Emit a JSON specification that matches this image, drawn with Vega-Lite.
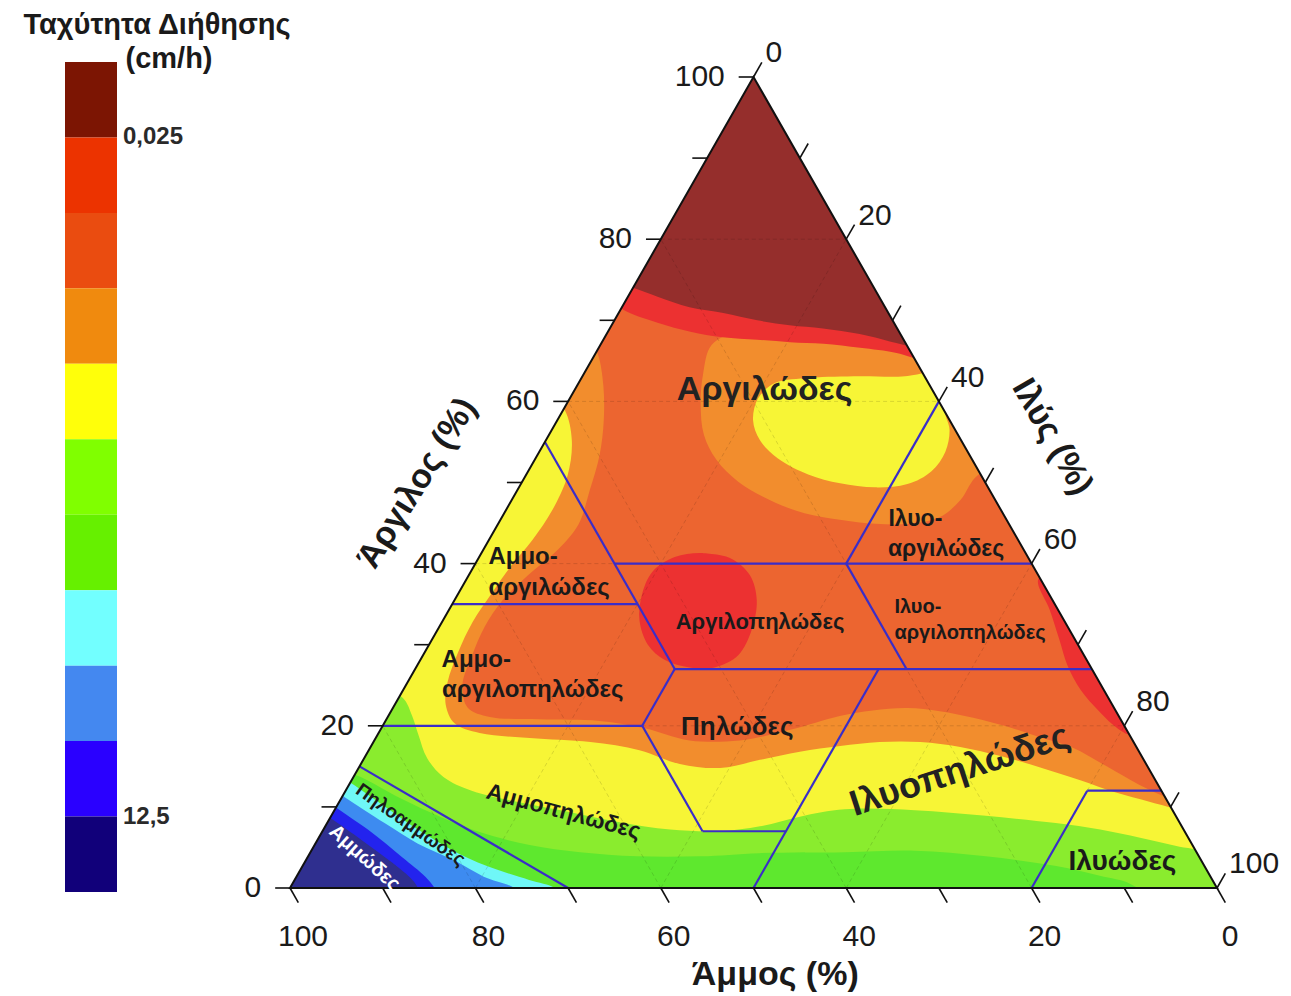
{
"$schema":"https://vega.github.io/schema/vega-lite/v6.json",
"width":1291,"height":996,"padding":0,"autosize":{"type":"none"},
"background":"#ffffff",
"config":{"view":{"stroke":null},"font":"Liberation Sans"},
"datasets":{
"base":[{"poly":1,"silt":0,"clay":0},{"poly":1,"silt":100,"clay":0},{"poly":1,"silt":0,"clay":100}],
"masks":[
{"poly":1,"silt":0,"clay":-14},{"poly":1,"silt":0,"clay":115},{"poly":1,"silt":-97.5,"clay":115},{"poly":1,"silt":-33,"clay":-14},
{"poly":2,"silt":114,"clay":-14},{"poly":2,"silt":-15,"clay":115},{"poly":2,"silt":62.5,"clay":115},{"poly":2,"silt":127,"clay":-14},
{"poly":3,"silt":-40,"clay":0},{"poly":3,"silt":120,"clay":0},{"poly":3,"silt":127,"clay":-14},{"poly":3,"silt":-33,"clay":-14}
],
"bands":[
{"poly":1,"band":"orange","silt":-1.4,"clay":67.6},{"poly":1,"band":"orange","silt":0.4,"clay":65.7},{"poly":1,"band":"orange","silt":2.8,"clay":62.0},{"poly":1,"band":"orange","silt":5.0,"clay":57.7},{"poly":1,"band":"orange","silt":6.7,"clay":53.4},{"poly":1,"band":"orange","silt":7.8,"clay":49.1},{"poly":1,"band":"orange","silt":8.7,"clay":44.8},{"poly":1,"band":"orange","silt":7.9,"clay":41.4},{"poly":1,"band":"orange","silt":6.4,"clay":38.6},{"poly":1,"band":"orange","silt":5.2,"clay":35.5},{"poly":1,"band":"orange","silt":4.9,"clay":32.2},{"poly":1,"band":"orange","silt":5.3,"clay":28.7},{"poly":1,"band":"orange","silt":6.1,"clay":25.0},{"poly":1,"band":"orange","silt":8.1,"clay":22.2},{"poly":1,"band":"orange","silt":11.0,"clay":21.1},{"poly":1,"band":"orange","silt":16.5,"clay":20.8},{"poly":1,"band":"orange","silt":23.1,"clay":20.6},{"poly":1,"band":"orange","silt":28.4,"clay":19.7},{"poly":1,"band":"orange","silt":34.0,"clay":18.2},{"poly":1,"band":"orange","silt":39.4,"clay":18.2},{"poly":1,"band":"orange","silt":44.2,"clay":19.5},{"poly":1,"band":"orange","silt":48.7,"clay":21.2},{"poly":1,"band":"orange","silt":51.9,"clay":21.9},{"poly":1,"band":"orange","silt":55.5,"clay":22.2},{"poly":1,"band":"orange","silt":59.2,"clay":21.8},{"poly":1,"band":"orange","silt":63.2,"clay":21.0},{"poly":1,"band":"orange","silt":67.4,"clay":19.9},{"poly":1,"band":"orange","silt":71.6,"clay":18.6},{"poly":1,"band":"orange","silt":75.8,"clay":17.3},{"poly":1,"band":"orange","silt":80.6,"clay":15.0},{"poly":1,"band":"orange","silt":85.3,"clay":12.7},{"poly":1,"band":"orange","silt":91.4,"clay":10.2},{"poly":1,"band":"orange","silt":105.5,"clay":5},{"poly":1,"band":"orange","silt":116.5,"clay":-13},{"poly":1,"band":"orange","silt":-18.5,"clay":-13},{"poly":1,"band":"orange","silt":-30,"clay":40},{"poly":1,"band":"orange","silt":-16,"clay":72},
{"poly":2,"band":"yellow","silt":-2.3,"clay":60.8},{"poly":2,"band":"yellow","silt":0.2,"clay":58.9},{"poly":2,"band":"yellow","silt":2.8,"clay":55.2},{"poly":2,"band":"yellow","silt":4.5,"clay":50.9},{"poly":2,"band":"yellow","silt":5.0,"clay":46.6},{"poly":2,"band":"yellow","silt":4.7,"clay":42.9},{"poly":2,"band":"yellow","silt":4.0,"clay":39.8},{"poly":2,"band":"yellow","silt":3.6,"clay":36.4},{"poly":2,"band":"yellow","silt":3.3,"clay":32.8},{"poly":2,"band":"yellow","silt":3.6,"clay":29.1},{"poly":2,"band":"yellow","silt":4.3,"clay":25.4},{"poly":2,"band":"yellow","silt":5.5,"clay":22.6},{"poly":2,"band":"yellow","silt":7.6,"clay":20.3},{"poly":2,"band":"yellow","silt":10.9,"clay":19.1},{"poly":2,"band":"yellow","silt":16.6,"clay":18.5},{"poly":2,"band":"yellow","silt":23.4,"clay":18.0},{"poly":2,"band":"yellow","silt":29.2,"clay":17.0},{"poly":2,"band":"yellow","silt":34.4,"clay":15.3},{"poly":2,"band":"yellow","silt":39.0,"clay":14.8},{"poly":2,"band":"yellow","silt":42.8,"clay":15.8},{"poly":2,"band":"yellow","silt":46.6,"clay":16.8},{"poly":2,"band":"yellow","silt":50.6,"clay":17.5},{"poly":2,"band":"yellow","silt":54.6,"clay":18.0},{"poly":2,"band":"yellow","silt":59.0,"clay":18.0},{"poly":2,"band":"yellow","silt":63.6,"clay":17.4},{"poly":2,"band":"yellow","silt":68.4,"clay":16.3},{"poly":2,"band":"yellow","silt":73.4,"clay":14.9},{"poly":2,"band":"yellow","silt":78.6,"clay":13.3},{"poly":2,"band":"yellow","silt":83.1,"clay":11.8},{"poly":2,"band":"yellow","silt":87.5,"clay":10.6},{"poly":2,"band":"yellow","silt":91.9,"clay":9.4},{"poly":2,"band":"yellow","silt":105.5,"clay":5},{"poly":2,"band":"yellow","silt":116.5,"clay":-13},{"poly":2,"band":"yellow","silt":-18.5,"clay":-13},{"poly":2,"band":"yellow","silt":-30,"clay":40},{"poly":2,"band":"yellow","silt":-16.5,"clay":63},
{"poly":3,"band":"lgreen","silt":-2.0,"clay":24.4},{"poly":3,"band":"lgreen","silt":0.5,"clay":23.4},{"poly":3,"band":"lgreen","silt":2.5,"clay":21.3},{"poly":3,"band":"lgreen","silt":4.4,"clay":18.9},{"poly":3,"band":"lgreen","silt":6.8,"clay":16.0},{"poly":3,"band":"lgreen","silt":9.7,"clay":13.7},{"poly":3,"band":"lgreen","silt":13.6,"clay":12.0},{"poly":3,"band":"lgreen","silt":19.3,"clay":10.6},{"poly":3,"band":"lgreen","silt":25.3,"clay":9.4},{"poly":3,"band":"lgreen","silt":31.5,"clay":8.1},{"poly":3,"band":"lgreen","silt":37.4,"clay":7.2},{"poly":3,"band":"lgreen","silt":42.9,"clay":7.0},{"poly":3,"band":"lgreen","silt":46.9,"clay":7.6},{"poly":3,"band":"lgreen","silt":50.6,"clay":8.8},{"poly":3,"band":"lgreen","silt":55.0,"clay":9.7},{"poly":3,"band":"lgreen","silt":62.6,"clay":9.6},{"poly":3,"band":"lgreen","silt":70.6,"clay":8.9},{"poly":3,"band":"lgreen","silt":78.6,"clay":8.0},{"poly":3,"band":"lgreen","silt":83.8,"clay":7.2},{"poly":3,"band":"lgreen","silt":88.6,"clay":6.2},{"poly":3,"band":"lgreen","silt":92.9,"clay":5.2},{"poly":3,"band":"lgreen","silt":97.3,"clay":3.9},{"poly":3,"band":"lgreen","silt":116.5,"clay":-13},{"poly":3,"band":"lgreen","silt":-18.5,"clay":-13},{"poly":3,"band":"lgreen","silt":-22.5,"clay":25},{"poly":3,"band":"lgreen","silt":-12,"clay":30},
{"poly":4,"band":"dgreen","silt":-1.2,"clay":14.3},{"poly":4,"band":"dgreen","silt":1.0,"clay":13.6},{"poly":4,"band":"dgreen","silt":6.3,"clay":11.1},{"poly":4,"band":"dgreen","silt":11.8,"clay":8.8},{"poly":4,"band":"dgreen","silt":17.0,"clay":6.9},{"poly":4,"band":"dgreen","silt":23.2,"clay":5.3},{"poly":4,"band":"dgreen","silt":29.1,"clay":4.4},{"poly":4,"band":"dgreen","silt":35.5,"clay":3.9},{"poly":4,"band":"dgreen","silt":42.3,"clay":3.9},{"poly":4,"band":"dgreen","silt":48.5,"clay":4.3},{"poly":4,"band":"dgreen","silt":57.7,"clay":4.4},{"poly":4,"band":"dgreen","silt":65.1,"clay":4.6},{"poly":4,"band":"dgreen","silt":73.1,"clay":3.9},{"poly":4,"band":"dgreen","silt":81.3,"clay":2.7},{"poly":4,"band":"dgreen","silt":86.6,"clay":1.5},{"poly":4,"band":"dgreen","silt":90.4,"clay":0.5},{"poly":4,"band":"dgreen","silt":93.5,"clay":-1.5},{"poly":4,"band":"dgreen","silt":98.5,"clay":-13},{"poly":4,"band":"dgreen","silt":-18.5,"clay":-13},{"poly":4,"band":"dgreen","silt":-17,"clay":14},
{"poly":5,"band":"cyan","silt":-1.8,"clay":13.9},{"poly":5,"band":"cyan","silt":0.2,"clay":12.9},{"poly":5,"band":"cyan","silt":5.3,"clay":10.0},{"poly":5,"band":"cyan","silt":10.2,"clay":7.2},{"poly":5,"band":"cyan","silt":15.1,"clay":4.7},{"poly":5,"band":"cyan","silt":19.9,"clay":2.7},{"poly":5,"band":"cyan","silt":25.3,"clay":1.0},{"poly":5,"band":"cyan","silt":28.6,"clay":0},{"poly":5,"band":"cyan","silt":30.6,"clay":-1.5},{"poly":5,"band":"cyan","silt":35.5,"clay":-13},{"poly":5,"band":"cyan","silt":-18.5,"clay":-13},{"poly":5,"band":"cyan","silt":-17,"clay":14},
{"poly":6,"band":"lblue","silt":-1.4,"clay":12.1},{"poly":6,"band":"lblue","silt":0.3,"clay":11.2},{"poly":6,"band":"lblue","silt":6.2,"clay":8.0},{"poly":6,"band":"lblue","silt":11.0,"clay":5.5},{"poly":6,"band":"lblue","silt":15.8,"clay":3.5},{"poly":6,"band":"lblue","silt":20.2,"clay":1.4},{"poly":6,"band":"lblue","silt":24.2,"clay":0},{"poly":6,"band":"lblue","silt":26.2,"clay":-1.5},{"poly":6,"band":"lblue","silt":32.5,"clay":-13},{"poly":6,"band":"lblue","silt":-18.5,"clay":-13},{"poly":6,"band":"lblue","silt":-16,"clay":12},
{"poly":7,"band":"blue","silt":-1.6,"clay":10.9},{"poly":7,"band":"blue","silt":-0.1,"clay":10.0},{"poly":7,"band":"blue","silt":4.8,"clay":7.2},{"poly":7,"band":"blue","silt":10.2,"clay":3.8},{"poly":7,"band":"blue","silt":13.9,"clay":1.4},{"poly":7,"band":"blue","silt":15.6,"clay":0},{"poly":7,"band":"blue","silt":16.9,"clay":-1.5},{"poly":7,"band":"blue","silt":22.5,"clay":-13},{"poly":7,"band":"blue","silt":-18.5,"clay":-13},{"poly":7,"band":"blue","silt":-15,"clay":10},
{"poly":8,"band":"navy","silt":-1.8,"clay":9.6},{"poly":8,"band":"navy","silt":0.1,"clay":8.6},{"poly":8,"band":"navy","silt":4.8,"clay":5.9},{"poly":8,"band":"navy","silt":9.5,"clay":3.1},{"poly":8,"band":"navy","silt":12.7,"clay":1.0},{"poly":8,"band":"navy","silt":13.8,"clay":0},{"poly":8,"band":"navy","silt":14.9,"clay":-1.5},{"poly":8,"band":"navy","silt":20.5,"clay":-13},{"poly":8,"band":"navy","silt":-18.5,"clay":-13},{"poly":8,"band":"navy","silt":-14.5,"clay":9},
{"poly":9,"band":"orange","silt":38.5,"clay":67.6},{"poly":9,"band":"orange","silt":30.0,"clay":67.2},{"poly":9,"band":"orange","silt":21.0,"clay":67.9},{"poly":9,"band":"orange","silt":14.3,"clay":68.6},{"poly":9,"band":"orange","silt":12.0,"clay":67.0},{"poly":9,"band":"orange","silt":12.9,"clay":63.3},{"poly":9,"band":"orange","silt":14.5,"clay":59.6},{"poly":9,"band":"orange","silt":16.7,"clay":55.9},{"poly":9,"band":"orange","silt":19.6,"clay":52.8},{"poly":9,"band":"orange","silt":23.3,"clay":50.1},{"poly":9,"band":"orange","silt":27.9,"clay":47.8},{"poly":9,"band":"orange","silt":32.4,"clay":46.2},{"poly":9,"band":"orange","silt":36.6,"clay":45.4},{"poly":9,"band":"orange","silt":40.7,"clay":44.9},{"poly":9,"band":"orange","silt":44.4,"clay":44.9},{"poly":9,"band":"orange","silt":47.2,"clay":45.7},{"poly":9,"band":"orange","silt":48.4,"clay":47.8},{"poly":9,"band":"orange","silt":48.6,"clay":50.6},{"poly":9,"band":"orange","silt":50.2,"clay":52.8},{"poly":9,"band":"orange","silt":47.6,"clay":60.2},
{"poly":10,"band":"yellow","silt":38.6,"clay":64.1},{"poly":10,"band":"yellow","silt":34.8,"clay":63.1},{"poly":10,"band":"yellow","silt":29.9,"clay":63.1},{"poly":10,"band":"yellow","silt":24.7,"clay":62.9},{"poly":10,"band":"yellow","silt":21.2,"clay":62.3},{"poly":10,"band":"yellow","silt":20.3,"clay":60.4},{"poly":10,"band":"yellow","silt":21.1,"clay":57.7},{"poly":10,"band":"yellow","silt":23.1,"clay":55.2},{"poly":10,"band":"yellow","silt":26.1,"clay":53.0},{"poly":10,"band":"yellow","silt":30.4,"clay":51.0},{"poly":10,"band":"yellow","silt":34.4,"clay":49.9},{"poly":10,"band":"yellow","silt":38.4,"clay":49.4},{"poly":10,"band":"yellow","silt":41.7,"clay":49.8},{"poly":10,"band":"yellow","silt":43.5,"clay":51.4},{"poly":10,"band":"yellow","silt":43.8,"clay":53.8},{"poly":10,"band":"yellow","silt":42.9,"clay":56.5},{"poly":10,"band":"yellow","silt":41.2,"clay":58.9},{"poly":10,"band":"yellow","silt":40.8,"clay":61.2},
{"poly":11,"band":"red","silt":23.6,"clay":41.3},{"poly":11,"band":"red","silt":27.1,"clay":40.7},{"poly":11,"band":"red","silt":30.3,"clay":38.6},{"poly":11,"band":"red","silt":32.6,"clay":35.5},{"poly":11,"band":"red","silt":33.9,"clay":31.8},{"poly":11,"band":"red","silt":34.0,"clay":28.7},{"poly":11,"band":"red","silt":32.2,"clay":27.2},{"poly":11,"band":"red","silt":29.5,"clay":27.2},{"poly":11,"band":"red","silt":26.4,"clay":28.1},{"poly":11,"band":"red","silt":23.6,"clay":30.0},{"poly":11,"band":"red","silt":21.2,"clay":33.0},{"poly":11,"band":"red","silt":19.9,"clay":36.1},{"poly":11,"band":"red","silt":19.6,"clay":39.0},{"poly":11,"band":"red","silt":21.1,"clay":40.8},{"poly":11,"band":"red","silt":23.6,"clay":41.3},{"poly":11,"band":"red","silt":27.1,"clay":40.7},
{"poly":12,"band":"red","silt":62.4,"clay":39.2},{"poly":12,"band":"red","silt":61.7,"clay":38.0},{"poly":12,"band":"red","silt":64.8,"clay":34.3},{"poly":12,"band":"red","silt":67.7,"clay":30.6},{"poly":12,"band":"red","silt":70.1,"clay":27.5},{"poly":12,"band":"red","silt":73.1,"clay":24.4},{"poly":12,"band":"red","silt":76.5,"clay":21.7},{"poly":12,"band":"red","silt":79.4,"clay":19.7},{"poly":12,"band":"red","silt":81.2,"clay":18.9},{"poly":12,"band":"red","silt":82.4,"clay":19.7},{"poly":12,"band":"red","silt":76.0,"clay":29.3},
{"poly":13,"band":"red","silt":-1.5,"clay":72.5},{"poly":13,"band":"red","silt":0.3,"clay":71.3},{"poly":13,"band":"red","silt":4.8,"clay":69.7},{"poly":13,"band":"red","silt":8.9,"clay":68.6},{"poly":13,"band":"red","silt":12.7,"clay":67.9},{"poly":13,"band":"red","silt":16.6,"clay":67.6},{"poly":13,"band":"red","silt":20.3,"clay":67.3},{"poly":13,"band":"red","silt":24.0,"clay":67.1},{"poly":13,"band":"red","silt":28.2,"clay":66.6},{"poly":13,"band":"red","silt":32.3,"clay":66.0},{"poly":13,"band":"red","silt":34.4,"clay":65.4},{"poly":13,"band":"red","silt":36.8,"clay":64.5},{"poly":13,"band":"red","silt":20,"clay":100},{"poly":13,"band":"red","silt":-7.5,"clay":115},{"poly":13,"band":"red","silt":-20,"clay":100},{"poly":13,"band":"red","silt":-12.5,"clay":75},
{"poly":14,"band":"maroon","silt":-2.3,"clay":74.7},{"poly":14,"band":"maroon","silt":0.0,"clay":74.0},{"poly":14,"band":"maroon","silt":3.2,"clay":72.9},{"poly":14,"band":"maroon","silt":7.3,"clay":71.6},{"poly":14,"band":"maroon","silt":11.3,"clay":70.9},{"poly":14,"band":"maroon","silt":15.4,"clay":70.0},{"poly":14,"band":"maroon","silt":19.2,"clay":69.4},{"poly":14,"band":"maroon","silt":23.0,"clay":69.0},{"poly":14,"band":"maroon","silt":27.3,"clay":68.3},{"poly":14,"band":"maroon","silt":31.0,"clay":67.4},{"poly":14,"band":"maroon","silt":33.5,"clay":66.8},{"poly":14,"band":"maroon","silt":35.9,"clay":66.3},{"poly":14,"band":"maroon","silt":20,"clay":100},{"poly":14,"band":"maroon","silt":-7.5,"clay":115},{"poly":14,"band":"maroon","silt":-20,"clay":100},{"poly":14,"band":"maroon","silt":-12.5,"clay":76}
],
"classes":[
{"s1":0,"c1":55,"s2":28,"c2":27},{"s1":15,"c1":40,"s2":60,"c2":40},{"s1":0,"c1":35,"s2":20,"c2":35},{"s1":40,"c1":60,"s2":40,"c2":40},{"s1":40,"c1":40,"s2":53,"c2":27},{"s1":28,"c1":27,"s2":73,"c2":27},{"s1":0,"c1":20,"s2":28,"c2":20},{"s1":28,"c1":20,"s2":28,"c2":27},{"s1":28,"c1":20,"s2":41,"c2":7},{"s1":41,"c1":7,"s2":50,"c2":7},{"s1":50,"c1":27,"s2":50,"c2":0},{"s1":80,"c1":12,"s2":88,"c2":12},{"s1":80,"c1":12,"s2":80,"c2":0},{"s1":0,"c1":15,"s2":30,"c2":0}
],
"ticks":[
{"comp":"clay","v":0},{"comp":"clay","v":10},{"comp":"clay","v":20},{"comp":"clay","v":30},{"comp":"clay","v":40},{"comp":"clay","v":50},{"comp":"clay","v":60},{"comp":"clay","v":70},{"comp":"clay","v":80},{"comp":"clay","v":90},{"comp":"clay","v":100},
{"comp":"sand","v":0},{"comp":"sand","v":10},{"comp":"sand","v":20},{"comp":"sand","v":30},{"comp":"sand","v":40},{"comp":"sand","v":50},{"comp":"sand","v":60},{"comp":"sand","v":70},{"comp":"sand","v":80},{"comp":"sand","v":90},{"comp":"sand","v":100},
{"comp":"silt","v":0},{"comp":"silt","v":10},{"comp":"silt","v":20},{"comp":"silt","v":30},{"comp":"silt","v":40},{"comp":"silt","v":50},{"comp":"silt","v":60},{"comp":"silt","v":70},{"comp":"silt","v":80},{"comp":"silt","v":90},{"comp":"silt","v":100}
],
"labels":[
{"name":"Αργιλώδες","silt":20.5,"clay":61.4,"grp":"big0"},
{"name":"Ιλυοπηλώδες","silt":65.0,"clay":14.5,"grp":"big18"},
{"name":"Αμμο-","silt":1.0,"clay":40.8,"grp":"left24"},
{"name":"αργιλώδες","silt":2.9,"clay":37.0,"grp":"left24"},
{"name":"Αμμο-","silt":2.3,"clay":28.1,"grp":"left24"},
{"name":"αργιλοπηλώδες","silt":4.2,"clay":24.4,"grp":"left24"},
{"name":"Ιλυο-","silt":41.8,"clay":45.5,"grp":"left22"},
{"name":"αργιλώδες","silt":43.6,"clay":41.8,"grp":"left22"},
{"name":"Ιλυο-","silt":47.9,"clay":34.6,"grp":"left20"},
{"name":"αργιλοπηλώδες","silt":49.5,"clay":31.4,"grp":"left20"},
{"name":"Αργιλοπηλώδες","silt":34.3,"clay":32.8,"grp":"c22"},
{"name":"Πηλώδες","silt":38.3,"clay":19.9,"grp":"c26"},
{"name":"Ιλυώδες","silt":88.2,"clay":3.2,"grp":"c28"},
{"name":"Αμμοπηλώδες","silt":24.8,"clay":9.4,"grp":"r15"},
{"name":"Πηλοαμμώδες","silt":9.1,"clay":7.8,"grp":"r35"},
{"name":"Αμμώδες","silt":6.2,"clay":3.7,"grp":"r42"},
{"name":"Άργιλος (%)","silt":-11.2,"clay":49.9,"grp":"axL"},
{"name":"Ιλύς (%)","silt":54.4,"clay":55.6,"grp":"axR"},
{"name":"Άμμος (%)","silt":57.7,"clay":-10.7,"grp":"axB"}
],
"cbar":[{"band":1},{"band":2},{"band":3},{"band":4},{"band":5},{"band":6},{"band":7},{"band":8},{"band":9},{"band":10},{"band":11}]
},
"layer":[
{
"encoding":{
"x":{"field":"x","type":"quantitative","scale":{"domain":[-31.284,107.983],"nice":false,"zero":false},"axis":null},
"y":{"field":"y","type":"quantitative","scale":{"domain":[-13.317,109.494],"nice":false,"zero":false},"axis":null}
},
"layer":[
{"data":{"name":"base"},"transform":[{"calculate":"datum.silt+datum.clay/2","as":"x"},{"calculate":"datum.clay","as":"y"},{"window":[{"op":"row_number","as":"i"}]}],
"mark":{"type":"line","filled":true,"interpolate":"linear-closed","color":"#EC6530"},
"encoding":{"order":{"field":"i","type":"quantitative"}}},
{"data":{"name":"bands"},"transform":[{"calculate":"datum.silt+datum.clay/2","as":"x"},{"calculate":"datum.clay","as":"y"},{"window":[{"op":"row_number","as":"i"}]}],
"mark":{"type":"line","filled":true,"interpolate":"catmull-rom"},
"encoding":{"color":{"field":"band","type":"nominal","scale":{"domain":["orange","yellow","lgreen","dgreen","cyan","lblue","blue","navy","red","maroon"],"range":["#F28D2D","#F7F536","#8AEC2E","#5EE82E","#6FF7F7","#3D8BF0","#2323EE","#2F2F8F","#EC3131","#952E2C"]},"legend":null},"detail":{"field":"poly","type":"nominal"},"order":{"field":"i","type":"quantitative"}}},
{"data":{"name":"masks"},"transform":[{"calculate":"datum.silt+datum.clay/2","as":"x"},{"calculate":"datum.clay","as":"y"},{"window":[{"op":"row_number","as":"i"}]}],
"mark":{"type":"line","filled":true,"interpolate":"linear-closed","color":"#ffffff"},
"encoding":{"detail":{"field":"poly","type":"nominal"},"order":{"field":"i","type":"quantitative"}}},
{"data":{"name":"ticks"},"transform":[{"filter":"datum.v>0 && datum.v<100 && datum.v%20==0"},
{"calculate":"datum.comp=='clay' ? datum.v/2 : datum.comp=='silt' ? datum.v : 100-datum.v","as":"x"},
{"calculate":"datum.comp=='clay' ? datum.v : 0","as":"y"},
{"calculate":"datum.comp=='clay' ? 100-datum.v/2 : datum.comp=='silt' ? 50+datum.v/2 : (100-datum.v)/2","as":"x2"},
{"calculate":"datum.comp=='clay' ? datum.v : 100-datum.v","as":"y2"}],
"mark":{"type":"rule","color":"#000000","opacity":0.13,"strokeDash":[4,3],"strokeWidth":1},
"encoding":{"x2":{"field":"x2"},"y2":{"field":"y2"}}},
{"data":{"name":"classes"},"transform":[{"calculate":"datum.s1+datum.c1/2","as":"x"},{"calculate":"datum.c1","as":"y"},{"calculate":"datum.s2+datum.c2/2","as":"x2"},{"calculate":"datum.c2","as":"y2"}],
"mark":{"type":"rule","color":"#3A2DC8","strokeWidth":2.2},
"encoding":{"x2":{"field":"x2"},"y2":{"field":"y2"}}},
{"data":{"name":"base"},"transform":[{"calculate":"datum.silt+datum.clay/2","as":"x"},{"calculate":"datum.clay","as":"y"},{"window":[{"op":"row_number","as":"i"}]}],
"mark":{"type":"line","interpolate":"linear-closed","color":"#111111","strokeWidth":2},
"encoding":{"order":{"field":"i","type":"quantitative"}}},
{"data":{"name":"ticks"},"transform":[
{"calculate":"datum.comp=='clay' ? datum.v/2 : datum.comp=='sand' ? 100-datum.v : 50+datum.v/2","as":"x"},
{"calculate":"datum.comp=='clay' ? datum.v : datum.comp=='sand' ? 0 : 100-datum.v","as":"y"},
{"calculate":"datum.comp=='clay' ? datum.v/2-1.6 : datum.comp=='sand' ? 100.9-datum.v : 50.9+datum.v/2","as":"x2"},
{"calculate":"datum.comp=='clay' ? datum.v : datum.comp=='sand' ? -1.8 : 101.8-datum.v","as":"y2"}],
"mark":{"type":"rule","color":"#111111","strokeWidth":1.6},
"encoding":{"x2":{"field":"x2"},"y2":{"field":"y2"}}},
{"data":{"name":"ticks"},"transform":[{"filter":"datum.comp=='clay' && datum.v%20==0"},{"calculate":"datum.v/2-3.1","as":"x"},{"calculate":"datum.v","as":"y"}],
"mark":{"type":"text","align":"right","baseline":"middle","fontSize":30,"color":"#1a1a1a"},
"encoding":{"text":{"field":"v","type":"nominal"}}},
{"data":{"name":"ticks"},"transform":[{"filter":"datum.comp=='sand' && datum.v%20==0"},{"calculate":"101.4-datum.v","as":"x"},{"calculate":"-6","as":"y"}],
"mark":{"type":"text","align":"center","baseline":"middle","fontSize":30,"color":"#1a1a1a"},
"encoding":{"text":{"field":"v","type":"nominal"}}},
{"data":{"name":"ticks"},"transform":[{"filter":"datum.comp=='silt' && datum.v%20==0"},{"calculate":"51.3+datum.v/2","as":"x"},{"calculate":"102.9-datum.v","as":"y"}],
"mark":{"type":"text","align":"left","baseline":"middle","fontSize":30,"color":"#1a1a1a"},
"encoding":{"text":{"field":"v","type":"nominal"}}},
{"data":{"name":"labels"},"transform":[{"filter":"datum.grp=='big0'"},{"calculate":"datum.silt+datum.clay/2","as":"x"},{"calculate":"datum.clay","as":"y"}],
"mark":{"type":"text","align":"center","baseline":"middle","fontSize":34,"fontWeight":"bold","color":"#222222"},
"encoding":{"text":{"field":"name"}}},
{"data":{"name":"labels"},"transform":[{"filter":"datum.grp=='big18'"},{"calculate":"datum.silt+datum.clay/2","as":"x"},{"calculate":"datum.clay","as":"y"}],
"mark":{"type":"text","align":"center","baseline":"middle","fontSize":36,"fontWeight":"bold","angle":-18,"color":"#222222"},
"encoding":{"text":{"field":"name"}}},
{"data":{"name":"labels"},"transform":[{"filter":"datum.grp=='left24'"},{"calculate":"datum.silt+datum.clay/2","as":"x"},{"calculate":"datum.clay","as":"y"}],
"mark":{"type":"text","align":"left","baseline":"middle","fontSize":24,"fontWeight":"bold","color":"#1a1a1a"},
"encoding":{"text":{"field":"name"}}},
{"data":{"name":"labels"},"transform":[{"filter":"datum.grp=='left22'"},{"calculate":"datum.silt+datum.clay/2","as":"x"},{"calculate":"datum.clay","as":"y"}],
"mark":{"type":"text","align":"left","baseline":"middle","fontSize":23,"fontWeight":"bold","color":"#1a1a1a"},
"encoding":{"text":{"field":"name"}}},
{"data":{"name":"labels"},"transform":[{"filter":"datum.grp=='left20'"},{"calculate":"datum.silt+datum.clay/2","as":"x"},{"calculate":"datum.clay","as":"y"}],
"mark":{"type":"text","align":"left","baseline":"middle","fontSize":20,"fontWeight":"bold","color":"#1a1a1a"},
"encoding":{"text":{"field":"name"}}},
{"data":{"name":"labels"},"transform":[{"filter":"datum.grp=='c22'"},{"calculate":"datum.silt+datum.clay/2","as":"x"},{"calculate":"datum.clay","as":"y"}],
"mark":{"type":"text","align":"center","baseline":"middle","fontSize":22,"fontWeight":"bold","color":"#1a1a1a"},
"encoding":{"text":{"field":"name"}}},
{"data":{"name":"labels"},"transform":[{"filter":"datum.grp=='c26'"},{"calculate":"datum.silt+datum.clay/2","as":"x"},{"calculate":"datum.clay","as":"y"}],
"mark":{"type":"text","align":"center","baseline":"middle","fontSize":26,"fontWeight":"bold","color":"#1a1a1a"},
"encoding":{"text":{"field":"name"}}},
{"data":{"name":"labels"},"transform":[{"filter":"datum.grp=='c28'"},{"calculate":"datum.silt+datum.clay/2","as":"x"},{"calculate":"datum.clay","as":"y"}],
"mark":{"type":"text","align":"center","baseline":"middle","fontSize":28,"fontWeight":"bold","color":"#1a1a1a"},
"encoding":{"text":{"field":"name"}}},
{"data":{"name":"labels"},"transform":[{"filter":"datum.grp=='r15'"},{"calculate":"datum.silt+datum.clay/2","as":"x"},{"calculate":"datum.clay","as":"y"}],
"mark":{"type":"text","align":"center","baseline":"middle","fontSize":23,"fontWeight":"bold","angle":15,"color":"#1a1a1a"},
"encoding":{"text":{"field":"name"}}},
{"data":{"name":"labels"},"transform":[{"filter":"datum.grp=='r35'"},{"calculate":"datum.silt+datum.clay/2","as":"x"},{"calculate":"datum.clay","as":"y"}],
"mark":{"type":"text","align":"center","baseline":"middle","fontSize":19,"fontWeight":"bold","angle":35,"color":"#1a1a1a"},
"encoding":{"text":{"field":"name"}}},
{"data":{"name":"labels"},"transform":[{"filter":"datum.grp=='r42'"},{"calculate":"datum.silt+datum.clay/2","as":"x"},{"calculate":"datum.clay","as":"y"}],
"mark":{"type":"text","align":"center","baseline":"middle","fontSize":20,"fontWeight":"bold","angle":42,"color":"#ffffff"},
"encoding":{"text":{"field":"name"}}},
{"data":{"name":"labels"},"transform":[{"filter":"datum.grp=='axL'"},{"calculate":"datum.silt+datum.clay/2","as":"x"},{"calculate":"datum.clay","as":"y"}],
"mark":{"type":"text","align":"center","baseline":"middle","fontSize":34,"fontWeight":"bold","angle":-58,"color":"#1a1a1a"},
"encoding":{"text":{"field":"name"}}},
{"data":{"name":"labels"},"transform":[{"filter":"datum.grp=='axR'"},{"calculate":"datum.silt+datum.clay/2","as":"x"},{"calculate":"datum.clay","as":"y"}],
"mark":{"type":"text","align":"center","baseline":"middle","fontSize":34,"fontWeight":"bold","angle":60,"color":"#1a1a1a"},
"encoding":{"text":{"field":"name"}}},
{"data":{"name":"labels"},"transform":[{"filter":"datum.grp=='axB'"},{"calculate":"datum.silt+datum.clay/2","as":"x"},{"calculate":"datum.clay","as":"y"}],
"mark":{"type":"text","align":"center","baseline":"middle","fontSize":34,"fontWeight":"bold","color":"#1a1a1a"},
"encoding":{"text":{"field":"name"}}}
]
},
{
"layer":[
{"data":{"name":"cbar"},"mark":{"type":"rect"},
"encoding":{
"y":{"field":"band","type":"ordinal","scale":{"range":[62,892],"paddingInner":0,"paddingOuter":0},"axis":null},
"x":{"datum":0,"type":"quantitative","scale":{"domain":[0,1],"range":[65,117]},"axis":null},
"x2":{"datum":1},
"color":{"field":"band","type":"ordinal","scale":{"domain":[1,2,3,4,5,6,7,8,9,10,11],"range":["#7C1503","#EC3300","#EA4C10","#F08A0E","#FFFF0A","#80FF00","#66F000","#72FFFF","#4488F0","#2A00FF","#11007A"]},"legend":null}}},
{"data":{"values":[{"band":2,"label":"0,025"},{"band":11,"label":"12,5"}]},
"mark":{"type":"text","align":"left","baseline":"middle","dx":6,"fontSize":24,"fontWeight":"bold","color":"#2a2a2a"},
"encoding":{"y":{"field":"band","type":"ordinal","bandPosition":0,"scale":{"range":[62,892],"paddingInner":0,"paddingOuter":0},"axis":null},"x":{"datum":1,"type":"quantitative","scale":{"domain":[0,1],"range":[65,117]},"axis":null},"text":{"field":"label"}}},
{"data":{"values":[{"band":1}]},
"mark":{"type":"text","text":"Ταχύτητα Διήθησης","fontSize":29,"fontWeight":"bold","align":"center","baseline":"middle","dy":-37,"color":"#1a1a1a"},
"encoding":{"y":{"field":"band","type":"ordinal","bandPosition":0,"scale":{"range":[62,892],"paddingInner":0,"paddingOuter":0},"axis":null},"x":{"datum":1.77,"type":"quantitative","scale":{"domain":[0,1],"range":[65,117]},"axis":null}}},
{"data":{"values":[{"band":1}]},
"mark":{"type":"text","text":"(cm/h)","fontSize":29,"fontWeight":"bold","align":"center","baseline":"middle","dy":-3,"color":"#1a1a1a"},
"encoding":{"y":{"field":"band","type":"ordinal","bandPosition":0,"scale":{"range":[62,892],"paddingInner":0,"paddingOuter":0},"axis":null},"x":{"datum":2.0,"type":"quantitative","scale":{"domain":[0,1],"range":[65,117]},"axis":null}}}
]
}
],
"resolve":{"scale":{"x":"independent","y":"independent","color":"independent"}}
}
